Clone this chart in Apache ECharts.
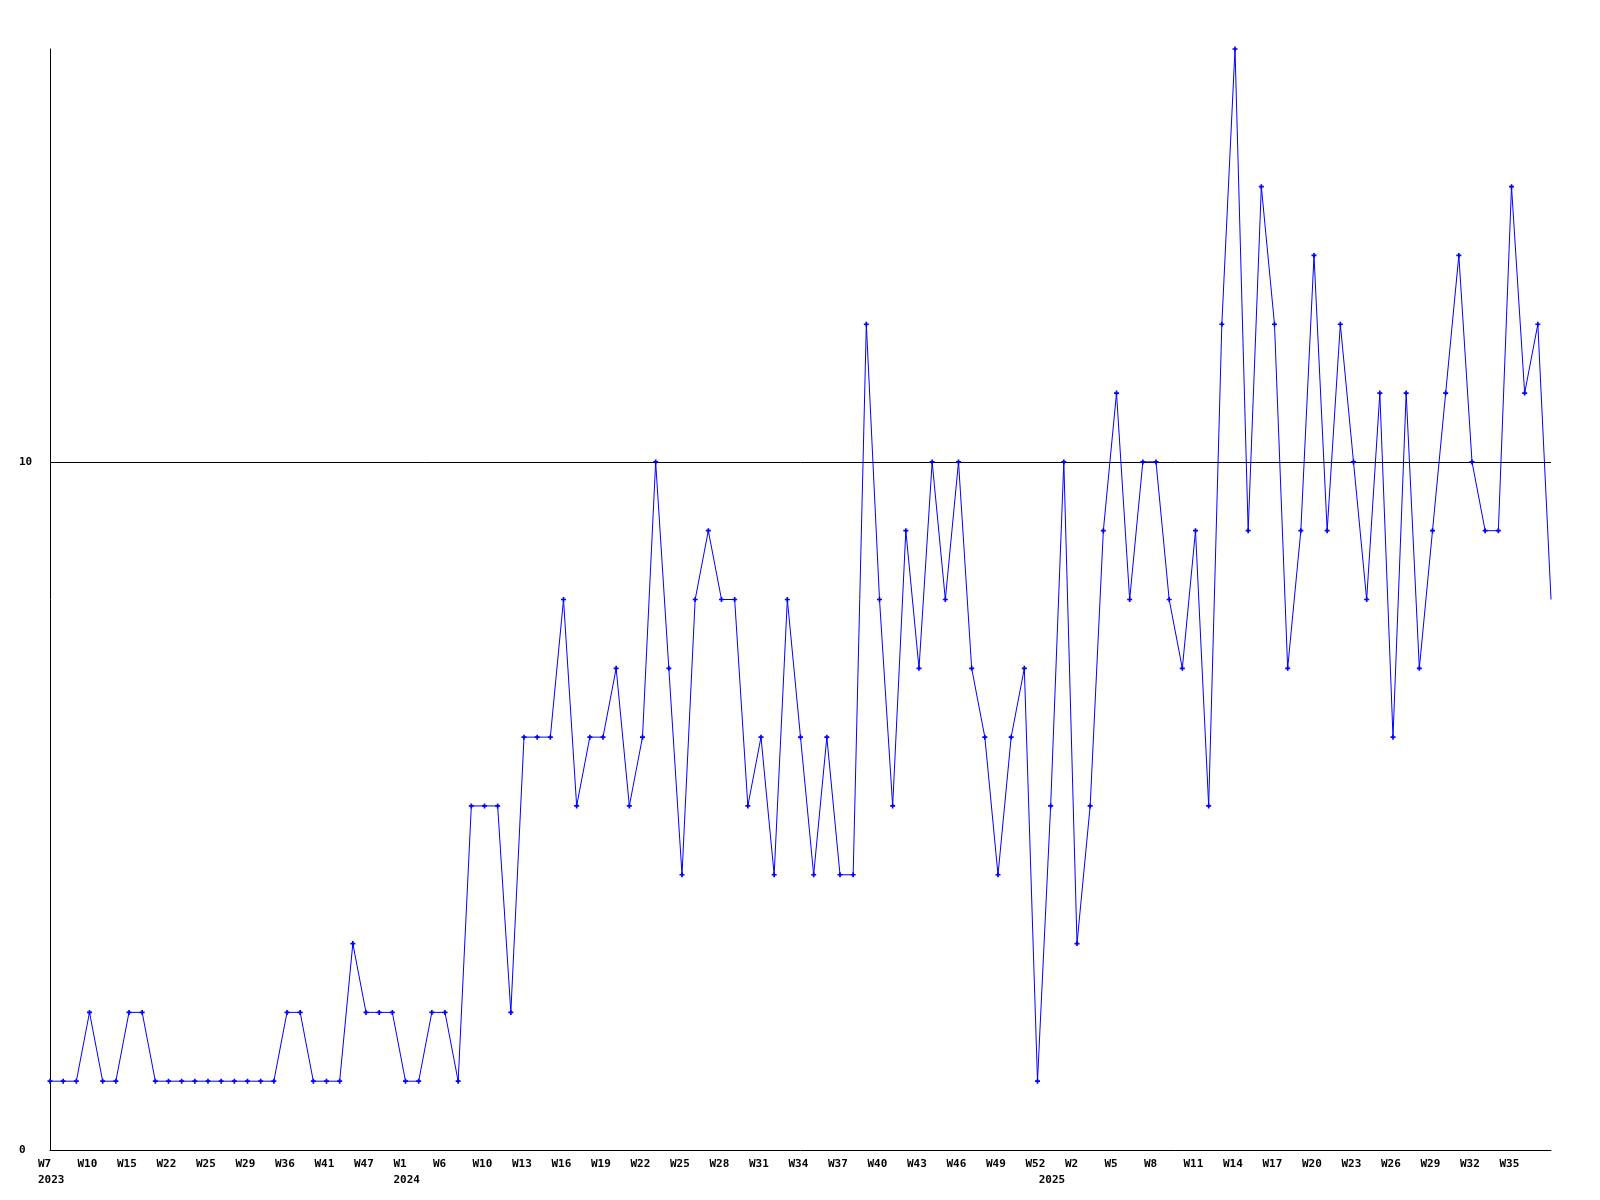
<!DOCTYPE html>
<html>
<head>
<meta charset="utf-8">
<script src="https://cdn.jsdelivr.net/npm/echarts@6/dist/echarts.min.js"></script>
<style>
html,body{margin:0;padding:0;background:#fff;}
#chart{width:1600px;height:1200px;}
</style>
</head>
<body>
<div id="chart"></div>
<script>
// Week labels (one per data point) and the year of each point
const weeks = [
  "W7","W8","W9","W10","W12","W14","W15","W17","W20","W22","W23","W24","W25","W26","W28","W29","W31","W34","W36","W38","W40","W41","W43","W45","W47","W49","W51",
  "W1","W2","W4","W6","W8","W9","W10","W11","W12","W13","W14","W15","W16","W17","W18","W19","W20","W21","W22","W23","W24","W25","W26","W27","W28","W29","W30","W31","W32","W33","W34","W35","W36","W37","W38","W39","W40","W41","W42","W43","W44","W45","W46","W47","W48","W49","W50","W51","W52",
  "W0","W1","W2","W3","W4","W5","W6","W7","W8","W9","W10","W11","W12","W13","W14","W15","W16","W17","W18","W19","W20","W21","W22","W23","W24","W25","W26","W27","W28","W29","W30","W31","W32","W33","W34","W35","W36","W37","W38"
];
const years = [
  "2023","2023","2023","2023","2023","2023","2023","2023","2023","2023","2023","2023","2023","2023","2023","2023","2023","2023","2023","2023","2023","2023","2023","2023","2023","2023","2023",
  "2024","2024","2024","2024","2024","2024","2024","2024","2024","2024","2024","2024","2024","2024","2024","2024","2024","2024","2024","2024","2024","2024","2024","2024","2024","2024","2024","2024","2024","2024","2024","2024","2024","2024","2024","2024","2024","2024","2024","2024","2024","2024","2024","2024","2024","2024","2024","2024","2024",
  "2025","2025","2025","2025","2025","2025","2025","2025","2025","2025","2025","2025","2025","2025","2025","2025","2025","2025","2025","2025","2025","2025","2025","2025","2025","2025","2025","2025","2025","2025","2025","2025","2025","2025","2025","2025","2025","2025","2025"
];
// Weekly values
const values = [
  1,1,1,2,1,1,2,2,1,1,1,1,1,1,1,1,1,1,2,2,1,1,1,3,2,2,2,
  1,1,2,2,1,5,5,5,2,6,6,6,8,5,6,6,7,5,6,10,7,4,8,9,8,8,5,6,4,8,6,4,6,4,4,12,8,5,9,7,10,8,10,7,6,4,6,7,1,
  5,10,3,5,9,11,8,10,10,8,7,9,5,12,16,9,14,12,7,9,13,9,12,10,8,11,6,11,7,9,11,13,10,9,9,14,11,12,8
];
const yTicks = [0, 10];

const categories = weeks.map((w, i) => years[i] + "-" + w);
const seriesData = values.map((v, i) => i === values.length - 1 ? { value: v, symbol: 'none' } : v);
const lastIdx = values.length - 1;

function isYearStart(i) { return i === 0 || years[i - 1] !== years[i]; }
function isWeekLabel(i) { return i % 3 === 0 && i < lastIdx; }

const chart = echarts.init(document.getElementById('chart'), null, { renderer: 'canvas' });
const font = '"DejaVu Sans Mono", "Liberation Mono", monospace';
chart.setOption({
  animation: false,
  backgroundColor: '#ffffff',
  grid: { left: 50, right: 49, top: 49, bottom: 50, containLabel: false },
  xAxis: {
    type: 'category',
    data: categories,
    boundaryGap: false,
    axisLine: { show: true, lineStyle: { color: '#000', width: 1 } },
    axisTick: { show: false },
    splitLine: { show: false },
    axisLabel: {
      interval: function (index) { return isWeekLabel(index) || isYearStart(index); },
      align: 'left',
      verticalAlign: 'top',
      margin: 6,
      padding: [0, 0, 0, -12],
      lineHeight: 16,
      color: '#000',
      fontFamily: font,
      fontWeight: 'bold',
      fontSize: 11,
      formatter: function (value, index) {
        const w = isWeekLabel(index) ? weeks[index] : ' ';
        if (isYearStart(index)) return w + '\n' + years[index];
        return w;
      }
    }
  },
  yAxis: {
    type: 'value',
    min: yTicks[0],
    max: 16,
    interval: yTicks[1] - yTicks[0],
    axisLine: { show: true, lineStyle: { color: '#000', width: 1 } },
    axisTick: { show: false },
    splitLine: { show: true, showMinLine: false, showMaxLine: false, lineStyle: { color: '#000', width: 1 } },
    axisLabel: {
      showMaxLabel: false,
      align: 'left',
      margin: 31,
      color: '#000',
      fontFamily: font,
      fontWeight: 'bold',
      fontSize: 11
    }
  },
  series: [{
    type: 'line',
    data: seriesData,
    showAllSymbol: true,
    symbol: 'path://M1,0H2V1H3V2H2V3H1V2H0V1H1Z',
    symbolSize: 5,
    lineStyle: { color: '#0000ff', width: 1 },
    itemStyle: { color: '#0000ff' },
    emphasis: { disabled: true }
  }]
});
</script>
</body>
</html>
